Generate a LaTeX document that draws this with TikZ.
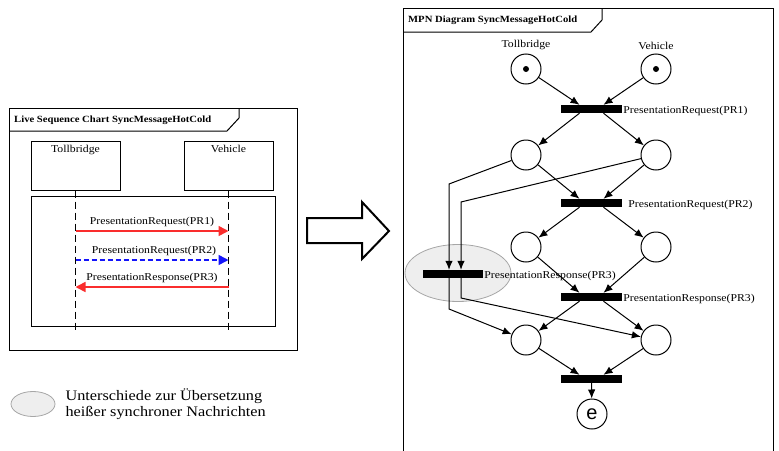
\documentclass[tikz,border=0pt]{standalone}
\usepackage{fontspec}
\setmainfont{Liberation Serif}[FakeStretch=1.12]
\newfontfamily\placefont{Liberation Sans}
\usetikzlibrary{arrows.meta,positioning,shapes.geometric}

\definecolor{hotred}{RGB}{250,45,45}
\definecolor{coldblue}{RGB}{20,20,250}
\definecolor{diffgray}{RGB}{238,238,238}

\begin{document}
\begin{tikzpicture}[x=1pt,y=-1pt]

	\tikzstyle{lbl}=[font=\fontsize{10.5}{12}\selectfont,inner sep=1pt]
	\tikzstyle{frametitle}=[font=\fontsize{9.5}{11}\selectfont\bfseries,
		anchor=west,inner sep=0pt]
	\tikzstyle{place}=[circle,draw=black,line width=1pt,
		minimum size=30pt,inner sep=0pt]
	\tikzstyle{trans}=[rectangle,fill=black,
		minimum width=61pt,minimum height=8pt,inner sep=0pt]
	\tikzstyle{token}=[circle,fill=black,minimum size=6pt,inner sep=0pt]
	\tikzstyle{flow}=[line width=1pt,-{Latex[length=9pt,width=7.5pt]}]
	\tikzstyle{lifebox}=[draw=black,line width=1pt,
		minimum width=89pt,minimum height=49pt]
	\tikzstyle{lifeline}=[line width=1pt,dash pattern=on 7pt off 4pt]
	\tikzstyle{msg}=[line width=1.6pt,-{Triangle[length=10pt,width=10pt]}]
	\tikzstyle{diff}=[ellipse,draw=black!35,line width=0.8pt,fill=diffgray]

	\useasboundingbox (0,0) rectangle (779,450);

	% LSC frame
	\draw[line width=1pt] (9,108) rectangle (297,350);
	\draw[line width=1pt] (9,131) -- (227,131) -- (239,118) -- (239,108);
	\node[frametitle] (lsctitle) at (14,120) {Live Sequence Chart SyncMessageHotCold};

	\node[lifebox] (tb) at (75.5,165.5) {};
	\node[lifebox] (vh) at (228.5,165.5) {};
	\node[lbl,below=4pt of tb.north] {Tollbridge};
	\node[lbl,below=4pt of vh.north] {Vehicle};
	\draw[line width=1pt] (31,196) rectangle (275,326);

	\coordinate (tbend) at (75.5,330);
	\coordinate (vhend) at (228.5,330);
	\draw[lifeline] (tb.south) -- (tbend);
	\draw[lifeline] (vh.south) -- (vhend);

	\coordinate (m1a) at (75.5,231);
	\coordinate (m1b) at (228.5,231);
	\coordinate (m2a) at (75.5,260);
	\coordinate (m2b) at (228.5,260);
	\coordinate (m3a) at (228.5,287);
	\coordinate (m3b) at (75.5,287);
	\draw[msg,hotred] (m1a) -- (m1b)
		node[midway,above=2pt,lbl,text=black]{PresentationRequest(PR1)};
	\draw[msg,coldblue,dash pattern=on 5pt off 3pt] (m2a) -- (m2b)
		node[midway,above=2pt,lbl,text=black,xshift=2pt]{PresentationRequest(PR2)};
	\draw[msg,hotred] (m3a) -- (m3b)
		node[midway,above=2pt,lbl,text=black]{PresentationResponse(PR3)};

	% big hollow arrow
	\draw[line width=2pt,line join=miter] (307,218) -- (362,218) -- (362,202) -- (389,231)
		-- (362,259) -- (362,243) -- (307,243) -- cycle;

	% MPN frame
	\draw[line width=1pt] (403,452) -- (403,8) -- (773,8) -- (773,452);
	\draw[line width=1pt] (403,32) -- (591,32) -- (602,20) -- (602,8);
	\node[frametitle] (mpntitle) at (408,20) {MPN Diagram SyncMessageHotCold};

	\node[diff] (hl) at (458,273) [minimum width=106pt,minimum height=57pt] {};

	\node[place] (p11) at (526,69) {};
	\node[place] (p12) at (656,69) {};
	\node[token] at (p11) {};
	\node[token] at (p12) {};
	\node[lbl,above=3pt of p11] {Tollbridge};
	\node[lbl,above=3pt of p12] {Vehicle};

	\node[trans] (t1) at (591.5,109) {};
	\node[lbl,anchor=west] at ([yshift=-2pt]t1.east) {PresentationRequest(PR1)};
	\node[place] (p21) at (526,155) {};
	\node[place] (p22) at (656,155) {};
	\node[trans] (t2) at (591.5,203) {};
	\node[lbl,anchor=west] at ([xshift=5pt,yshift=-2pt]t2.east) {PresentationRequest(PR2)};
	\node[place] (p31) at (526,247) {};
	\node[place] (p32) at (656,247) {};
	\node[trans] (tl) at (453,274) [minimum width=60pt] {};
	\node[lbl,anchor=west] at ([yshift=-2pt]tl.east) {PresentationResponse(PR3)};
	\node[trans] (t3) at (591.5,297) {};
	\node[lbl,anchor=west] at ([yshift=-2pt]t3.east) {PresentationResponse(PR3)};
	\node[place] (p41) at (526,340) {};
	\node[place] (p42) at (656,340) {};
	\node[trans] (t4) at (591.5,379) {};
	\node[place] (pe) at (592,414) {\placefont\fontsize{20}{20}\selectfont e};

	\draw[flow] (p11) -- ([xshift=-12pt]t1.north);
	\draw[flow] (p12) -- ([xshift=12pt]t1.north);
	\draw[flow] ([xshift=-12pt]t1.south) -- (p21);
	\draw[flow] ([xshift=12pt]t1.south) -- (p22);
	\draw[flow] (p21) -- ([xshift=-12pt]t2.north);
	\draw[flow] (p22) -- ([xshift=12pt]t2.north);
	\draw[flow] ([xshift=-12pt]t2.south) -- (p31);
	\draw[flow] ([xshift=12pt]t2.south) -- (p32);
	\draw[flow] (p31) -- ([xshift=-12pt]t3.north);
	\draw[flow] (p32) -- ([xshift=12pt]t3.north);
	\draw[flow] ([xshift=-12pt]t3.south) -- (p41);
	\draw[flow] ([xshift=12pt]t3.south) -- (p42);
	\draw[flow] (p41) -- ([xshift=-12pt]t4.north);
	\draw[flow] (p42) -- ([xshift=12pt]t4.north);
	\draw[flow] (t4.south) -- (pe);

	% hot response short cut
	\coordinate (k1) at (449,184);
	\coordinate (k2) at (461,202);
	\coordinate (k3) at (449,309);
	\coordinate (k4) at (461,298);
	\draw[flow] (p21) -- (k1) -- (k1 |- tl.north);
	\draw[flow] (p22) -- (k2) -- (k2 |- tl.north);
	\draw[flow] (k3 |- tl.south) -- (k3) -- (p41);
	\draw[flow] (k4 |- tl.south) -- (k4) -- (p42);

	% legend
	\node[diff] (key) at (33,404) [minimum width=44pt,minimum height=25pt] {};
	\node[right=10pt of key,align=left,font=\fontsize{14.5}{16}\selectfont,inner sep=0pt]
		(keytext) {Unterschiede zur Übersetzung\\heißer synchroner Nachrichten};

\end{tikzpicture}
\end{document}
